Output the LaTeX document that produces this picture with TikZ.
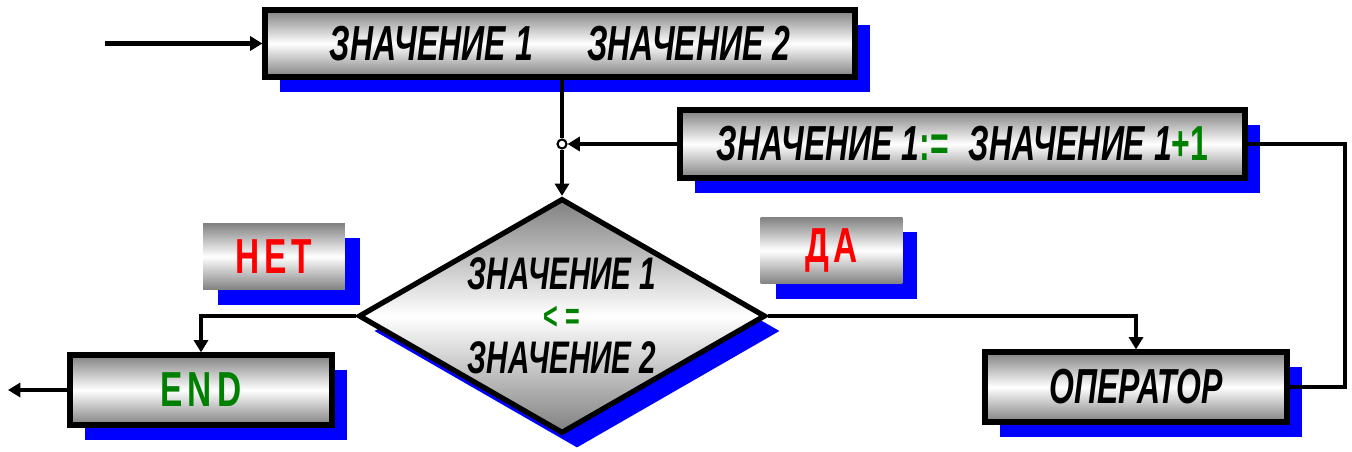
\documentclass[tikz,border=0pt]{standalone}
\usepackage{fontspec}
\usepackage{xcolor}
\usetikzlibrary{shapes.geometric,shadows,arrows.meta}
\newfontfamily\impfont[FakeStretch=0.65]{Liberation Sans}
\newfontfamily\impwide[FakeStretch=0.68,LetterSpace=10]{Liberation Sans}
\definecolor{okgreen}{RGB}{0, 128, 0}
\definecolor{plate}{RGB}{128, 128, 128}
\newcommand{\boxtext}{\impfont\bfseries\itshape\fontsize{28}{30}\selectfont}
\newcommand{\condtext}{\impfont\bfseries\itshape\fontsize{26}{22.5}\selectfont}
\newcommand{\tagtext}{\impwide\bfseries\fontsize{28}{30}\selectfont}
\tikzset{
  flowbox/.style={draw=black, line width=3pt, top color=plate, bottom color=plate,
    middle color=white, inner sep=0pt,
    drop shadow={shadow xshift=0.3cm, shadow yshift=-0.3cm, fill=blue, opacity=1}},
  tagbox/.style={top color=plate, bottom color=plate, middle color=white, inner sep=0pt,
    minimum width=2.84cm, minimum height=1.34cm,
    drop shadow={shadow xshift=0.3cm, shadow yshift=-0.3cm, fill=blue, opacity=1}},
  flowline/.style={line width=2.6pt},
  flowarrow/.style={line width=2.6pt, -{Triangle[length=7pt,width=8pt]}},
}

\begin{document}
\begin{tikzpicture}[x=0.02cm, y=-0.02cm]
    \useasboundingbox (0,0) rectangle (1352,452);

    % boxes
    \node[flowbox, font=\boxtext, minimum width=11.8cm, minimum height=1.34cm] (start) at (560,43.5)
      {ЗНАЧЕНИЕ 1\hspace{1.1em}ЗНАЧЕНИЕ 2};
    \node[flowbox, font=\boxtext, minimum width=11.3cm, minimum height=1.36cm] (incr) at (962.5,144)
      {ЗНАЧЕНИЕ 1{\upshape\color{okgreen}:=}\hspace{0.4em}ЗНАЧЕНИЕ 1{\upshape\color{okgreen}+1}};
    \node[flowbox, diamond, aspect=1.73, minimum width=8.14cm, minimum height=4.7cm,
      font=\condtext, align=center] (cond) at (562,316)
      {ЗНАЧЕНИЕ 1\\{\upshape\fontsize{22}{22.5}\selectfont\color{okgreen}< =}\\[3pt]ЗНАЧЕНИЕ 2};
    \node[flowbox, font=\tagtext, minimum width=5.24cm, minimum height=1.4cm] (stop) at (201,390)
      {\color{okgreen}END};
    \node[flowbox, font=\boxtext, minimum width=6.04cm, minimum height=1.4cm] (oper) at (1136,387)
      {ОПЕРАТОР};

    % labels of the branches
    \node[tagbox, font=\tagtext] (no) at (274,256.5) {\color{red}НЕТ};
    \node[tagbox, font=\tagtext] (yes) at (831.5,250.5) {\color{red}ДА};

    % connectors
    \node[circle, draw, line width=1.2pt, fill=white, inner sep=0pt, minimum size=0.18cm] (join) at (562,144) {};
    \coordinate (in) at (105,43.5);
    \coordinate (out) at (8,390);
    \coordinate (loop) at (1345,144);

    \draw[flowarrow] (in) -- (start);
    \draw[flowline] (join |- start.south) -- (join);
    \draw[flowarrow] (join) -- (cond.north);
    \draw[flowarrow] (incr.west) -- (join);
    \draw[flowarrow] (cond.west) -| (stop.north);
    \draw[flowarrow] (cond.east) -| (oper.north);
    \draw[flowline] (oper.east) -| (loop) -- (incr.east);
    \draw[flowarrow] (stop.west) -- (out);
\end{tikzpicture}
\end{document}
